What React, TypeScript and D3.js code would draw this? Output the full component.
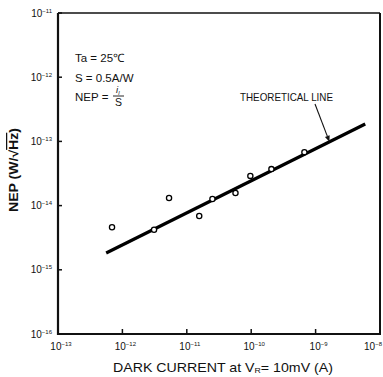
import React from "react";
import * as d3 from "d3";

const darkCurrent = [6.9e-13, 3.1e-12, 5.3e-12, 1.56e-11, 2.5e-11, 5.7e-11, 9.7e-11, 2.06e-10, 6.7e-10];
const nepValues = [4.6e-15, 4.2e-15, 1.31e-14, 6.9e-15, 1.27e-14, 1.57e-14, 2.9e-14, 3.7e-14, 6.8e-14];
const lineCurrent = [5.6e-13, 5.9e-9];
const lineNep = [1.83e-15, 1.87e-13];
const xTickExp = [-13, -12, -11, -10, -9, -8];
const yTickExp = [-11, -12, -13, -14, -15, -16];
const arrowCurrent = 1.64e-9;

const W = 383, H = 377;
const L = 58, R = 380, T = 13, B = 334;
const FONT = "'Liberation Sans', Arial, sans-serif";

export default function App() {
  const x = d3.scaleLog().domain([1e-13, 1e-8]).range([L, R]);
  const y = d3.scaleLog().domain([1e-16, 1e-11]).range([B, T]);
  const lineGen = d3.line<number>().x((_, i) => x(lineCurrent[i])).y((d) => y(d));
  const t = (Math.log10(arrowCurrent) - Math.log10(lineCurrent[0])) / (Math.log10(lineCurrent[1]) - Math.log10(lineCurrent[0]));
  const tipNep = Math.pow(10, Math.log10(lineNep[0]) + t * (Math.log10(lineNep[1]) - Math.log10(lineNep[0])));
  const tipX = x(arrowCurrent), tipY = y(tipNep);
  const startX = 315, startY = 104;
  const ang = Math.atan2(tipY - startY, tipX - startX);
  const ah = 6, aw = 2.5;
  const bx = tipX - ah * Math.cos(ang), by = tipY - ah * Math.sin(ang);
  const arrowPts = [
    [tipX, tipY],
    [bx + aw * Math.sin(ang), by - aw * Math.cos(ang)],
    [bx - aw * Math.sin(ang), by + aw * Math.cos(ang)],
  ].map((p) => p.join(",")).join(" ");

  return (
    <svg width={W} height={H} style={{ position: "absolute", left: 0, top: 0, background: "#fff" }} fontFamily={FONT}>
      <rect x={0} y={0} width={W} height={H} fill="#fff" />
      <line x1={L} y1={T} x2={R} y2={T} stroke="#111" strokeWidth={1.5} />
      <line x1={R} y1={T} x2={R} y2={B} stroke="#111" strokeWidth={2} />
      <line x1={L} y1={T} x2={L} y2={B + 1} stroke="#111" strokeWidth={2.2} />
      <line x1={L - 1} y1={B} x2={R + 1} y2={B} stroke="#111" strokeWidth={2.2} />
      {yTickExp.map((e) => (
        <g key={"y" + e}>
          <line x1={L} x2={L + 4} y1={y(Math.pow(10, e))} y2={y(Math.pow(10, e))} stroke="#111" strokeWidth={1.5} />
          <text x={L - 6} y={y(Math.pow(10, e)) + 3.5} textAnchor="end" fontSize={10} fill="#111">
            10<tspan fontSize={6} dy={-4}>{"\u2212" + Math.abs(e)}</tspan>
          </text>
        </g>
      ))}
      {xTickExp.map((e, i) => {
        const last = i === xTickExp.length - 1;
        return (
          <g key={"x" + e}>
            <line x1={x(Math.pow(10, e))} x2={x(Math.pow(10, e))} y1={B} y2={B - 5} stroke="#111" strokeWidth={1.5} />
            <text x={last ? W - 1 : x(Math.pow(10, e)) + 3} y={B + 16} textAnchor={last ? "end" : "middle"} fontSize={10} fill="#111">
              10<tspan fontSize={6} dy={-4}>{"\u2212" + Math.abs(e)}</tspan>
            </text>
          </g>
        );
      })}
      <path d={lineGen(lineNep) || ""} fill="none" stroke="#000" strokeWidth={3.2} />
      {darkCurrent.map((c, i) => (
        <circle key={i} cx={x(c)} cy={y(nepValues[i])} r={2.6} fill="#fff" stroke="#000" strokeWidth={1.3} />
      ))}
      <text x={240} y={101} fontSize={10.5} fill="#111" textLength={93} lengthAdjust="spacingAndGlyphs">THEORETICAL LINE</text>
      <line x1={startX} y1={startY} x2={bx} y2={by} stroke="#111" strokeWidth={1.1} />
      <polygon points={arrowPts} fill="#111" />
      <text x={75} y={62} fontSize={11.5} fill="#111">Ta = 25℃</text>
      <text x={75} y={82} fontSize={11.5} fill="#111">S = 0.5A/W</text>
      <text x={75} y={101} fontSize={11.5} fill="#111">NEP =</text>
      <text x={116} y={93} fontSize={9.5} fill="#111" fontStyle="italic">i<tspan fontSize={6} dy={2}>l</tspan></text>
      <line x1={113} x2={124} y1={96} y2={96} stroke="#111" strokeWidth={0.9} />
      <text x={118.5} y={106} fontSize={10.5} textAnchor="middle" fill="#111">S</text>
      <text transform={`translate(18,170) rotate(-90)`} textAnchor="middle" fontSize={12.5} fontWeight="bold" fill="#111" textLength={84} lengthAdjust="spacingAndGlyphs">
        NEP (W/√<tspan textDecoration="overline">Hz</tspan>)
      </text>
      <text x={223} y={372} textAnchor="middle" fontSize={13} fill="#111" textLength={220} lengthAdjust="spacingAndGlyphs">
        DARK CURRENT at V<tspan fontSize={8} dy={1}>R</tspan><tspan dy={-1}>= 10mV (A)</tspan>
      </text>
    </svg>
  );
}
